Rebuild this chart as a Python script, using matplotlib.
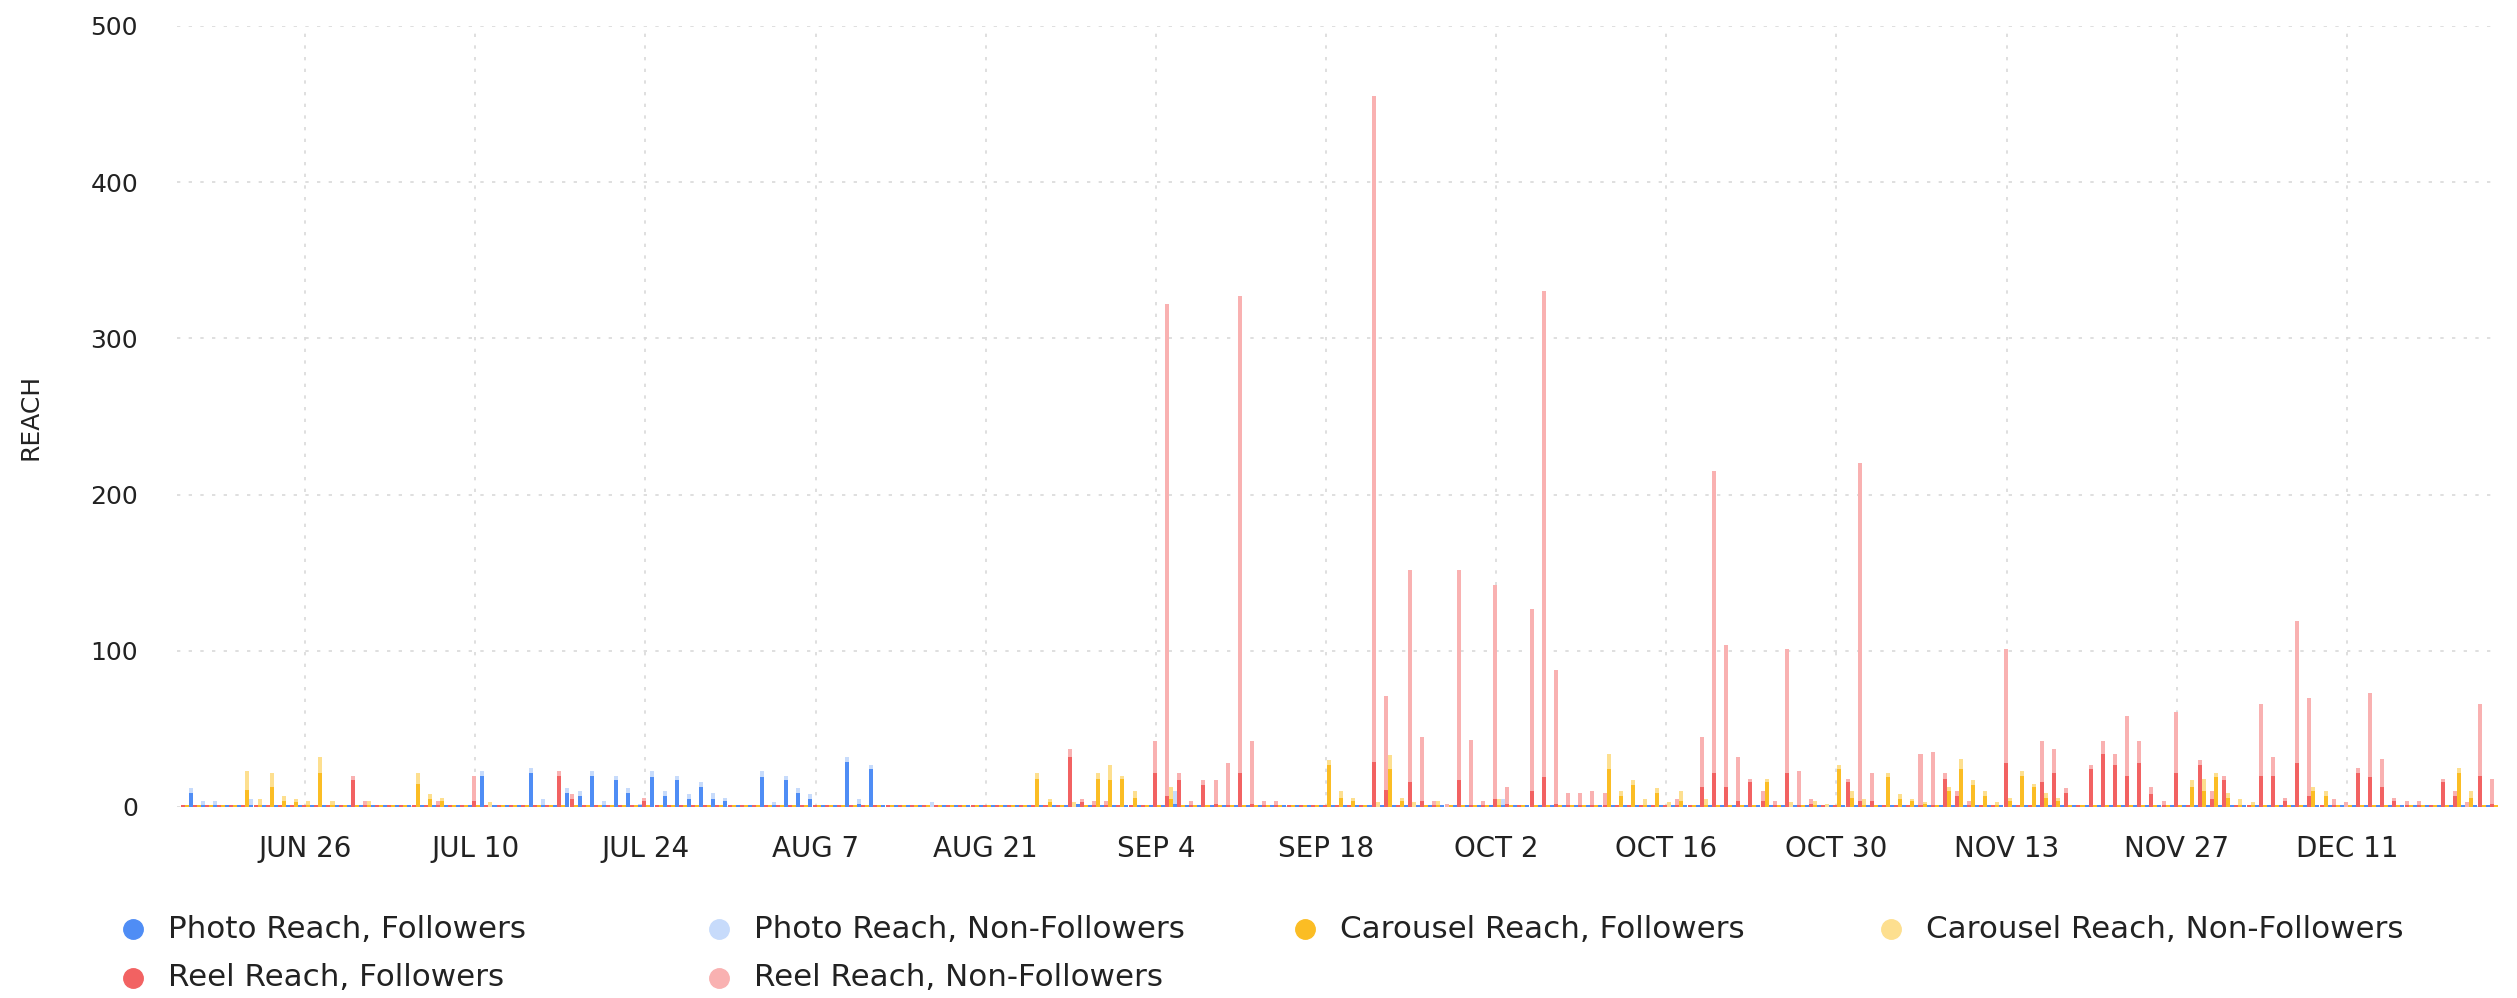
"""
Daily Instagram reach by post type (followers vs non-followers),
stacked columns grouped per day.
"""

import numpy as np
import matplotlib.pyplot as plt
from matplotlib.lines import Line2D
from datetime import date, timedelta

# ── Data (day offsets relative to JUN 26) ─────────────────────────────────────

START_DATE = date(2023, 6, 26)
FIRST_DAY, LAST_DAY = -10, 180

PHOTO_DAYS = [-10, -9, -8, -5, 14, 18, 19, 21, 22, 23, 24, 25, 26, 27, 28, 29, 30,
              31, 32, 33, 34, 37, 38, 39, 40, 41, 44, 45, 46, 51, 63, 71, 98]
PHOTO_F    = [9, 1, 1, 1, 20, 22, 1, 9, 7, 20, 1, 17, 9, 1, 19, 7, 17,
              5, 13, 5, 4, 19, 1, 17, 9, 5, 29, 2, 24, 0, 2, 2, 1]
PHOTO_NF   = [3, 3, 3, 4, 3, 3, 4, 3, 3, 3, 3, 3, 3, 1, 4, 3, 3,
              3, 3, 4, 2, 4, 2, 3, 3, 3, 3, 3, 3, 3, 0, 8, 4]

CAROUSEL_DAYS = [-5, -4, -3, -2, -1, 0, 1, 2, 5, 9, 10, 11, 15, 60, 61, 63, 65, 66,
                 67, 68, 71, 84, 85, 86, 88, 89, 90, 91, 93, 98, 107, 108, 109, 110,
                 111, 112, 113, 115, 120, 122, 124, 125, 126, 127, 128, 130, 131, 132,
                 133, 135, 136, 137, 138, 139, 140, 141, 142, 143, 144, 155, 156, 157,
                 158, 159, 160, 165, 166, 177, 178]
CAROUSEL_F    = [11, 1, 13, 4, 3, 1, 22, 1, 1, 15, 5, 4, 0, 18, 3, 0, 18, 17,
                 18, 6, 5, 27, 6, 4, 0, 24, 4, 0, 1, 1, 24, 7, 14, 1,
                 9, 0, 4, 1, 16, 0, 1, 0, 24, 6, 1, 19, 5, 4,
                 2, 10, 24, 14, 7, 1, 4, 20, 13, 6, 4, 13, 10, 19,
                 6, 1, 1, 10, 7, 22, 6]
CAROUSEL_NF   = [12, 4, 9, 3, 2, 3, 10, 3, 3, 7, 3, 2, 3, 4, 2, 3, 4, 10,
                 2, 4, 8, 3, 4, 2, 3, 9, 2, 3, 3, 4, 10, 3, 3, 4,
                 3, 3, 6, 4, 2, 3, 3, 2, 3, 4, 4, 3, 3, 1,
                 1, 3, 7, 3, 3, 2, 2, 3, 2, 3, 2, 4, 8, 3,
                 3, 4, 2, 3, 3, 3, 4]

REEL_DAYS = [4, 5, 11, 14, 21, 22, 28, 63, 64, 65, 66, 70, 71, 72, 73, 74, 75, 76,
             77, 78, 79, 80, 88, 89, 91, 92, 93, 94, 95, 96, 97, 98, 99, 101, 102,
             103, 104, 105, 106, 107, 113, 115, 116, 117, 118, 119, 120, 121, 122,
             123, 124, 127, 128, 129, 133, 134, 135, 136, 137, 140, 143, 144, 145,
             147, 148, 149, 150, 151, 152, 153, 154, 156, 157, 158, 161, 162, 163,
             164, 165, 167, 168, 169, 170, 171, 172, 173, 174, 176, 177, 178, 179, 180]
REEL_F    = [17, 1, 1, 4, 20, 5, 4, 32, 3, 1, 1, 22, 7, 17, 1, 14, 2, 1,
             22, 2, 1, 1, 29, 11, 16, 4, 1, 0, 17, 1, 1, 5, 2, 10, 19,
             2, 1, 1, 1, 1, 1, 13, 22, 13, 4, 16, 4, 1, 22,
             1, 2, 16, 4, 4, 1, 1, 18, 7, 1, 28, 16, 22, 9,
             24, 34, 27, 20, 28, 8, 1, 22, 27, 5, 17, 20, 20, 4,
             28, 7, 1, 0, 22, 19, 13, 4, 1, 1, 16, 7, 0, 20, 2]
REEL_NF   = [3, 3, 3, 16, 3, 3, 2, 5, 2, 3, 3, 20, 315, 5, 3, 3, 15, 27,
             305, 40, 3, 3, 426, 60, 136, 41, 3, 2, 135, 42, 3, 137, 11, 117, 311,
             86, 8, 8, 9, 8, 4, 32, 193, 91, 28, 2, 6, 3, 79,
             22, 3, 2, 216, 18, 33, 34, 4, 3, 3, 73, 26, 15, 3,
             3, 8, 7, 38, 14, 5, 3, 39, 3, 5, 3, 46, 12, 2,
             91, 63, 4, 3, 3, 54, 18, 2, 3, 3, 2, 3, 3, 46, 16]

TICK_DAYS   = [0, 14, 28, 42, 56, 70, 84, 98, 112, 126, 140, 154, 168]

COLORS = {
    "photo_f":     "#4f8df5",
    "photo_nf":    "#c7dbfb",
    "carousel_f":  "#fbbd24",
    "carousel_nf": "#fddf8f",
    "reel_f":      "#f26262",
    "reel_nf":     "#f9b1b1",
}

# ── Helpers ───────────────────────────────────────────────────────────────────

def daily(days, values):
    out = np.zeros(LAST_DAY - FIRST_DAY + 1)
    out[np.array(days) - FIRST_DAY] = values
    return out


def main():
    x = np.arange(FIRST_DAY, LAST_DAY + 1)
    series = [
        # (slot offset, followers, non-followers, colours)
        (-0.08, daily(REEL_DAYS, REEL_F), daily(REEL_DAYS, REEL_NF), "reel"),
        (0.25, daily(CAROUSEL_DAYS, CAROUSEL_F), daily(CAROUSEL_DAYS, CAROUSEL_NF), "carousel"),
        (0.58, daily(PHOTO_DAYS, PHOTO_F), daily(PHOTO_DAYS, PHOTO_NF), "photo"),
    ]

    fig = plt.figure(figsize=(25.17, 9.98), dpi=100)
    ax = fig.add_axes([0.0703, 0.1914, 0.9222, 0.7826])

    w = 0.33
    for off, f, nf, key in series:
        # thin coloured baseline that the chart shows for zero days
        ax.bar(x + off, np.full_like(f, 1.1), width=w, color=COLORS[key + "_f"],
               zorder=2, linewidth=0)
        ax.bar(x + off, f, width=w, color=COLORS[key + "_f"], zorder=3, linewidth=0)
        ax.bar(x + off, nf, bottom=f, width=w, color=COLORS[key + "_nf"], zorder=3,
               linewidth=0)

    ax.set_xlim(-10.55, 180.45)
    ax.set_ylim(0, 500)
    ax.set_yticks([0, 100, 200, 300, 400, 500])
    ax.set_xticks(TICK_DAYS)
    ax.set_xticklabels([(START_DATE + timedelta(days=d)).strftime("%b %-d").upper()
                        for d in TICK_DAYS])
    ax.tick_params(axis="both", length=0, colors="#222222")
    ax.tick_params(axis="y", pad=28, labelsize=18)
    ax.tick_params(axis="x", pad=20, labelsize=20)
    ax.grid(True, color="#d9d9d9", linestyle=(0, (2, 5)), linewidth=1.2, zorder=0)
    for sp in ax.spines.values():
        sp.set_visible(False)
    ax.set_ylabel("REACH", fontsize=18, color="#222222")
    ax.yaxis.set_label_coords(-0.058, 0.5)

    # ── Legend (manual, fixed column positions) ───────────────────────────────
    labels = [
        ("Photo Reach, Followers", COLORS["photo_f"]),
        ("Photo Reach, Non-Followers", COLORS["photo_nf"]),
        ("Carousel Reach, Followers", COLORS["carousel_f"]),
        ("Carousel Reach, Non-Followers", COLORS["carousel_nf"]),
        ("Reel Reach, Followers", COLORS["reel_f"]),
        ("Reel Reach, Non-Followers", COLORS["reel_nf"]),
    ]
    W, H = 2517, 998
    for i, (lab, col) in enumerate(labels):
        cx = 133 + (i % 4) * 586
        cy = 929 + (i // 4) * 49
        fig.add_artist(Line2D([cx / W], [1 - cy / H], marker="o", markersize=14,
                              color=col, linestyle="none", transform=fig.transFigure))
        fig.text((cx + 35) / W, 1 - cy / H, lab, fontsize=22.3, color="#222222",
                 va="center", ha="left")

    fig.savefig("out.png", dpi=100)
    plt.close(fig)


if __name__ == "__main__":
    main()
